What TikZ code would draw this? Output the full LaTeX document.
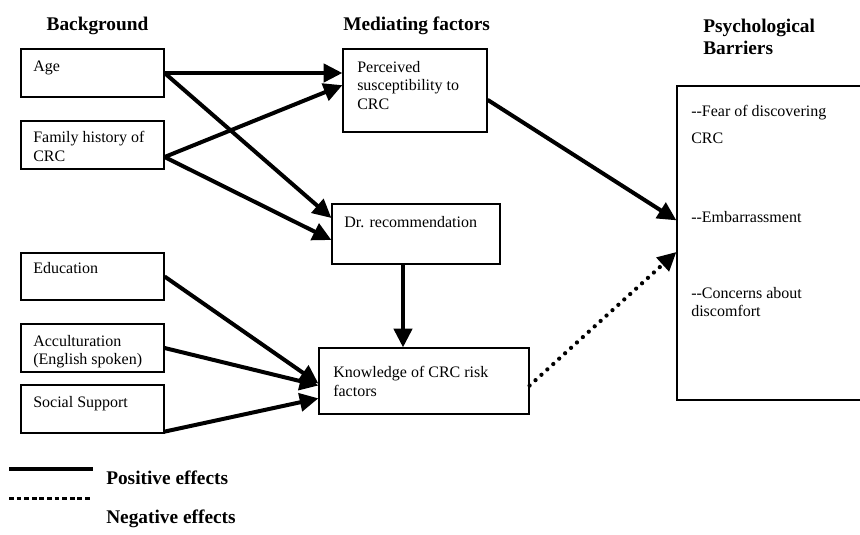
\documentclass[tikz,border=0pt]{standalone}
\usepackage{fontspec}
\setmainfont{Liberation Serif}
\usetikzlibrary{arrows.meta,fit}

\begin{document}
\begin{tikzpicture}[x=0.75pt, y=-0.75pt,
    box/.style={draw, line width=0.9pt, inner sep=0pt, fit={#1}},
    txt/.style={anchor=north west, inner sep=0pt, align=left, font=\fontsize{12}{13.9}\selectfont},
    heading/.style={anchor=north west, inner sep=0pt, align=left, font=\fontsize{14.5}{16.5}\selectfont\bfseries},
    posarrow/.style={line width=3pt, -{Triangle[length=14pt,width=13.5pt]}},
    negarrow/.style={line width=3.2pt, line cap=round, dash pattern=on 0pt off 6pt, -{Triangle[length=14pt,width=13.5pt]}}]
      \useasboundingbox (0,0) rectangle (860,535);

      % Column headings
      \node[heading, anchor=north] (hback) at (97.5,17) {Background};
      \node[heading] (hmed) at (343,17) {Mediating factors};
      \node[heading] (hpsy) at (703,19) {Psychological\\Barriers};

      % Background boxes
      \node[box={(21,49) (164,97)}] (age) {};
      \node[txt] (agetxt) at (33,61) {Age};
      \node[box={(21,121) (164,169)}] (family) {};
      \node[txt] (familytxt) at (33,131) {Family history of\\CRC};
      \node[box={(21,253) (164,300)}] (edu) {};
      \node[txt] (edutxt) at (33,262) {Education};
      \node[box={(21,324) (164,372)}] (accult) {};
      \node[txt] (acculttxt) at (33,335) {Acculturation\\(English spoken)};
      \node[box={(21,385) (164,433)}] (social) {};
      \node[txt] (socialtxt) at (33,396) {Social Support};

      % Mediating factors
      \node[box={(343,49) (487,132)}] (percv) {};
      \node[txt] (percvtxt) at (357,61) {Perceived\\susceptibility to\\CRC};
      \node[box={(332,204) (500,264)}] (drrec) {};
      \node[txt] (drrectxt) at (344,216) {Dr. recommendation};
      \node[box={(319,348) (529,414)}] (know) {};
      \node[txt] (knowtxt) at (333,366) {Knowledge of CRC risk\\factors};

      % Psychological barriers (box runs off the right edge)
      \node[box={(677,86) (872,400)}] (barr) {};
      \node[txt] (feartxt) at (691,105) {-{}-Fear of discovering\\[6.5pt]CRC};
      \node[txt] (embtxt) at (691,211) {-{}-Embarrassment};
      \node[txt] (disctxt) at (691,287) {-{}-Concerns about\\discomfort};

      % Positive effects
      \draw[posarrow] (age.east) -- (age.east -| percv.west);
      \draw[posarrow] (age.east) -- ([yshift=12pt]drrec.west);
      \draw[posarrow] ([yshift=-9pt]family.east) -- ([yshift=4pt]percv.west);
      \draw[posarrow] ([yshift=-9pt]family.east) -- ([yshift=-4.5pt]drrec.west);
      \draw[posarrow] ([yshift=-7pt]percv.east) -- ([yshift=17pt]barr.west);
      \draw[posarrow] ([xshift=-9.75pt]drrec.south) coordinate (drfoot) -- (drfoot |- know.north);
      \draw[posarrow] (edu.east) -- ([yshift=-1.9pt]know.west);
      \draw[posarrow] (accult.east) -- ([yshift=-3.4pt]know.west);
      \draw[posarrow] ([yshift=1.5pt]social.south east) -- ([yshift=-13pt]know.west);

      % Negative effect
      \draw[negarrow] ([yshift=-3.4pt]know.east) -- ([yshift=-6.75pt]barr.west);

      % Legend
      \coordinate (posa) at (9,469);
      \coordinate (posb) at (93,469);
      \draw[line width=3pt] (posa) -- (posb);
      \node[heading] (postxt) at (106,471) {Positive effects};
      \coordinate (nega) at (9,498.5);
      \coordinate (negb) at (92,498.5);
      \draw[line width=2.6pt, dash pattern=on 3.6pt off 2.1pt] (nega) -- (negb);
      \node[heading] (negtxt) at (106,510) {Negative effects};
    \end{tikzpicture}
\end{document}
